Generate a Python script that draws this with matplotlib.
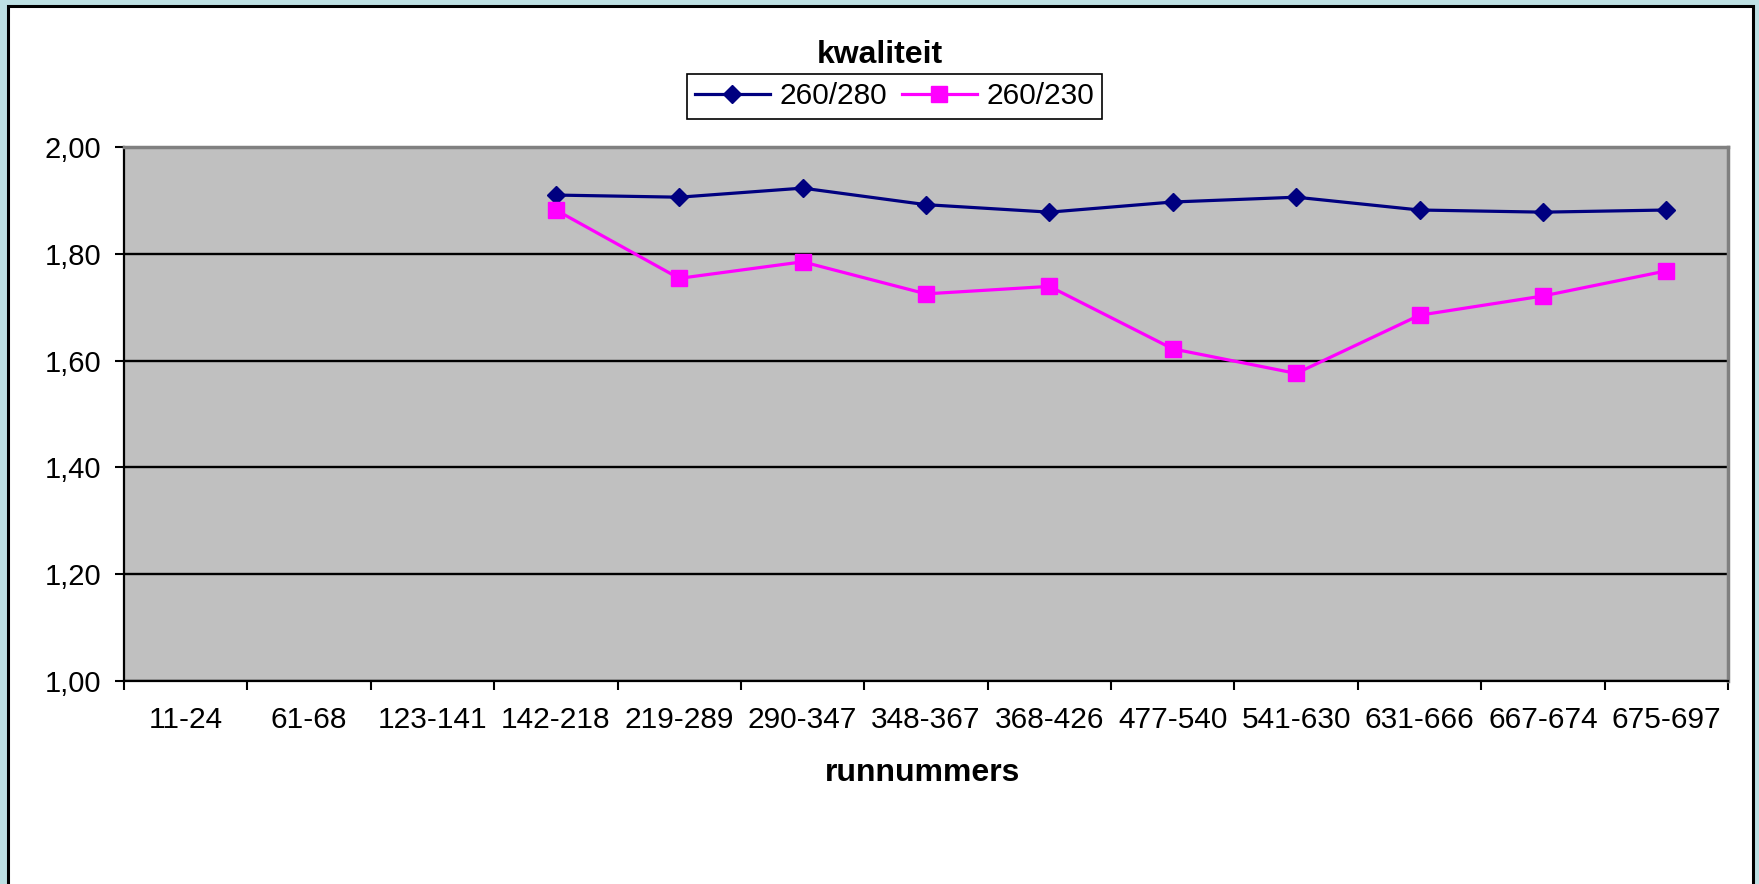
import numpy as np
import matplotlib
matplotlib.use("Agg")
import matplotlib.pyplot as plt
from matplotlib.patches import Rectangle

plt.rcParams['font.family'] = ['Liberation Sans', 'DejaVu Sans']

# --- data ---
categories = ["11-24", "61-68", "123-141", "142-218", "219-289", "290-347",
              "348-367", "368-426", "477-540", "541-630", "631-666",
              "667-674", "675-697"]
ratio_260_280 = [np.nan, np.nan, np.nan, 1.910, 1.906, 1.923, 1.892, 1.878,
                 1.897, 1.906, 1.882, 1.878, 1.882]
ratio_260_230 = [np.nan, np.nan, np.nan, 1.882, 1.754, 1.785, 1.725, 1.739,
                 1.622, 1.576, 1.685, 1.721, 1.768]
y_ticks = [1.0, 1.2, 1.4, 1.6, 1.8, 2.0]
y_ticklabels = ["1,00", "1,20", "1,40", "1,60", "1,80", "2,00"]

W, H = 1759, 884
fig = plt.figure(figsize=(W / 100, H / 100), dpi=100)
fig.patch.set_facecolor("#BDE0E3")

# white chart panel with black frame (open at the bottom edge of the image)
panel = Rectangle((8 / W, -0.05), (1753 - 8) / W, 1.05 - 6 / H,
                  transform=fig.transFigure, facecolor="white",
                  edgecolor="black", linewidth=2.2, zorder=-10)
fig.patches.append(panel)

ax = fig.add_axes([124 / W, 1 - 681 / H, (1728 - 124) / W, (681 - 147) / H])
ax.set_facecolor("#C0C0C0")

x = np.arange(len(categories))
ax.plot(x, ratio_260_280, color="#000080", linewidth=2.3, marker="D",
        markersize=9.5, markerfacecolor="#000080", markeredgecolor="#000080",
        label="260/280", zorder=3)
ax.plot(x, ratio_260_230, color="#FF00FF", linewidth=2.3, marker="s",
        markersize=11.5, markerfacecolor="#FF00FF", markeredgecolor="#FF00FF",
        label="260/230", zorder=3)

ax.set_xlim(-0.5, len(categories) - 0.5)
ax.set_ylim(1.0, 2.0)

# y axis
ax.set_yticks(y_ticks)
ax.set_yticklabels(y_ticklabels)
ax.tick_params(axis="y", direction="out", length=6.5, width=1.5,
               labelsize=21, pad=10, colors="black")
ax.set_axisbelow(True)
ax.yaxis.grid(True, color="black", linewidth=1.7)

# x axis: tick marks between categories, labels centred under categories
ax.set_xticks(np.arange(len(categories) + 1) - 0.5)
ax.set_xticklabels([])
ax.set_xticks(x, minor=True)
ax.set_xticklabels(categories, minor=True)
ax.tick_params(axis="x", which="major", direction="out", length=6.5, width=1.5)
ax.tick_params(axis="x", which="minor", length=0, labelsize=21.5, pad=18)

for side in ("left", "bottom"):
    ax.spines[side].set_color("black")
    ax.spines[side].set_linewidth(1.6)
for side in ("top", "right"):
    ax.spines[side].set_color("#808080")
    ax.spines[side].set_linewidth(2.5)

fig.text(880 / W, 1 - 63 / H, "kwaliteit", ha="center", va="baseline",
         fontsize=23, fontweight="bold")
fig.text(923 / W, 1 - 781 / H, "runnummers", ha="center", va="baseline",
         fontsize=23, fontweight="bold")

leg = ax.legend(loc="center", bbox_to_anchor=(894.5 / W, 1 - 96.5 / H),
                bbox_transform=fig.transFigure, ncol=2, fontsize=21.5,
                frameon=True, fancybox=False, shadow=False, numpoints=1,
                handlelength=2.5, handletextpad=0.32, columnspacing=0.5,
                borderpad=0.28, borderaxespad=0)
leg.get_frame().set_edgecolor("black")
leg.get_frame().set_linewidth(1.2)
leg.get_frame().set_facecolor("white")
leg.get_frame().set_alpha(1)

fig.savefig("out.png", dpi=100, facecolor=fig.get_facecolor())
